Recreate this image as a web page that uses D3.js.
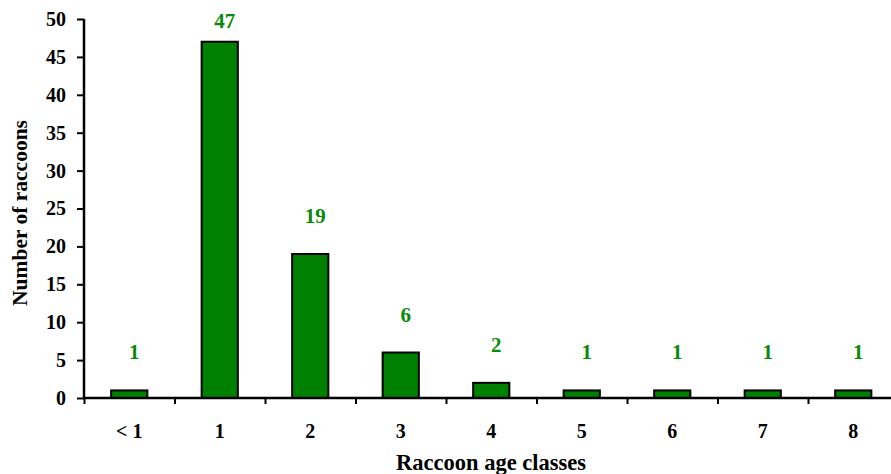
<!DOCTYPE html>
<html>
<head>
<meta charset="utf-8">
<script src="https://cdn.jsdelivr.net/npm/d3@7"></script>
<style>
  html, body { margin: 0; padding: 0; background: #fff; }
  svg { display: block; }
  text { font-family: "Liberation Serif", "Times New Roman", serif; font-weight: bold; }
</style>
</head>
<body>
<svg id="chart" width="891" height="474"></svg>
<script>
// Raccoon age distribution
const ageClasses = ["< 1", "1", "2", "3", "4", "5", "6", "7", "8"];
const raccoonCounts = [1, 47, 19, 6, 2, 1, 1, 1, 1];
const yTicks = [0, 5, 10, 15, 20, 25, 30, 35, 40, 45, 50];

const svg = d3.select("#chart");
const plotLeft = 84, plotRight = 898.5, plotTop = 19, plotBottom = 398;
const barColor = "#008000";
const labelColor = "#0a8a0a";

const x = d3.scaleBand().domain(ageClasses).range([plotLeft, plotRight]).paddingInner(0.6).paddingOuter(0.3);
const xTickScale = d3.scaleLinear().domain([0, ageClasses.length]).range([plotLeft, plotRight]);
const y = d3.scaleLinear().domain([0, 50]).range([plotBottom, plotTop]);

// bars
svg.append("g").selectAll("rect")
  .data(raccoonCounts)
  .join("rect")
  .attr("x", (d, i) => x(ageClasses[i]))
  .attr("y", d => y(d))
  .attr("width", x.bandwidth())
  .attr("height", d => y(0) - y(d))
  .attr("fill", barColor)
  .attr("stroke", "#000")
  .attr("stroke-width", 2);

// value labels
svg.append("g").selectAll("text")
  .data(raccoonCounts)
  .join("text")
  .attr("x", (d, i) => x(ageClasses[i]) + x.bandwidth() / 2 + 5)
  .attr("y", d => Math.max(y(d) - 31, 28))
  .attr("text-anchor", "middle")
  .attr("fill", labelColor)
  .style("font-size", "21px")
  .text(d => d);

// y axis
const yAxis = svg.append("g")
  .attr("transform", `translate(${plotLeft},0)`)
  .call(d3.axisLeft(y).tickValues(yTicks).tickSize(7).tickPadding(11));
yAxis.select(".domain").attr("stroke", "#000").attr("stroke-width", 2.5).attr("d", `M0,${plotTop}V${plotBottom}`);
yAxis.selectAll(".tick line").attr("stroke", "#000").attr("stroke-width", 2);
yAxis.selectAll(".tick text").style("font-size", "20px").attr("fill", "#000");

// x axis with ticks between categories
const xAxis = svg.append("g")
  .attr("transform", `translate(0,${plotBottom})`)
  .call(d3.axisBottom(xTickScale).tickValues(d3.range(0, ageClasses.length + 1)).tickSize(6).tickFormat(""));
xAxis.select(".domain").attr("stroke", "#000").attr("stroke-width", 2.5).attr("d", `M${plotLeft},0H${plotRight}`);
xAxis.selectAll(".tick line").attr("stroke", "#000").attr("stroke-width", 2);

svg.append("g").selectAll("text")
  .data(ageClasses)
  .join("text")
  .attr("x", d => x(d) + x.bandwidth() / 2)
  .attr("y", plotBottom + 40)
  .attr("text-anchor", "middle")
  .attr("fill", "#000")
  .style("font-size", "20px")
  .text(d => d);

// axis titles
svg.append("text")
  .attr("x", 491)
  .attr("y", 470)
  .attr("text-anchor", "middle")
  .style("font-size", "22.5px")
  .text("Raccoon age classes");

svg.append("text")
  .attr("transform", "translate(27,213) rotate(-90)")
  .attr("text-anchor", "middle")
  .style("font-size", "21.5px")
  .text("Number of raccoons");
</script>
</body>
</html>
